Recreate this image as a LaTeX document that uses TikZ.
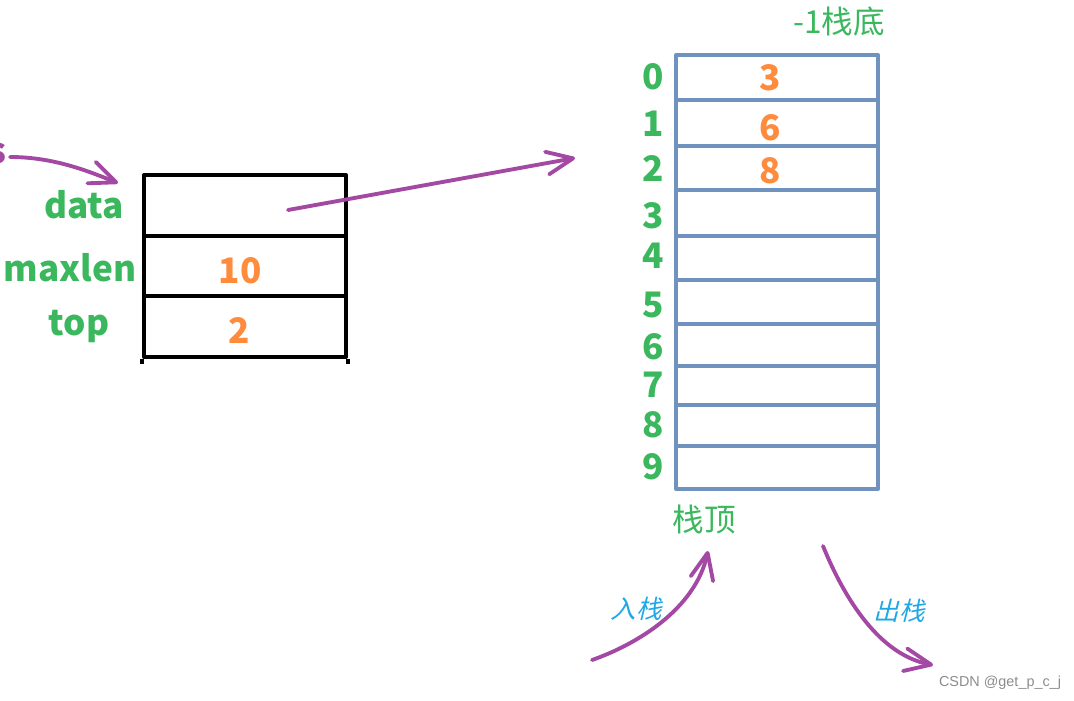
\documentclass[tikz,border=0pt]{standalone}
\usepackage{fontspec}
\setmainfont{Noto Sans CJK SC}
\newfontfamily\slantcjk{Noto Sans CJK SC}[FakeSlant=0.25]
\newfontfamily\markfont{Liberation Sans}
\usetikzlibrary{arrows.meta}
\definecolor{csgreen}{HTML}{3BB75E}
\definecolor{csorange}{HTML}{FF8B3D}
\definecolor{cspurple}{HTML}{A349A4}
\definecolor{csblue}{HTML}{7092BE}
\definecolor{cscyan}{HTML}{1FA8E4}
\tikzset{
  every picture/.style={line cap=round, line join=round},
  % struct fields (black) and stack slots (blue)
  cell/.style={draw=black, line width=2.3pt, line cap=butt, minimum width=4.04cm, inner sep=0pt},
  slot/.style={draw=csblue, line width=2.3pt, line cap=butt, minimum width=4.04cm, inner sep=0pt},
  field/.style={font=\bfseries\fontsize{20}{24}\selectfont, text=csgreen, inner sep=0pt},
  idx/.style={font=\bfseries\fontsize{20}{24}\selectfont, text=csgreen, inner sep=0pt},
  val/.style={font=\bfseries\fontsize{20}{24}\selectfont, text=csorange, inner sep=0pt},
  note/.style={font=\fontsize{18}{22}\selectfont, text=csgreen, inner sep=0pt},
  opname/.style={font=\slantcjk\fontsize{14.5}{17}\selectfont, text=cscyan, inner sep=0pt},
  % hand drawn purple pointer
  ptr/.style={draw=cspurple, line width=2.2pt, -{Straight Barb[length=15pt, width=13pt, round]}},
}
\begin{document}
\begin{tikzpicture}[x=0.02cm, y=-0.02cm]
  \useasboundingbox (0,0) rectangle (1074,700);
  % ---- left: the struct with its three fields
  \node[cell, minimum height=1.22cm] (datacell) at (245,205.5) {};
  \node[cell, minimum height=1.2cm] (lencell) at (245,266) {};
  \node[cell, minimum height=1.22cm] (topcell) at (245,326.5) {};
  \draw[line width=2.3pt, line cap=butt] (topcell.south west) -- ++(0,5) (topcell.south east) -- ++(0,5);
  \node[field] (datalbl) at (84,205) {data};
  \node[field] (lenlbl) at (70,268) {maxlen};
  \node[field] (toplbl) at (79,326) {top};
  \node[val] (lenval) at (240,271) {10};
  \node[val] (topval) at (239,330) {2};
  \node[font=\bfseries\fontsize{20}{24}\selectfont, text=cspurple, inner sep=0pt, anchor=east] (sfrag) at (7,153) {s};
  \coordinate (sptr) at (10,157);
  \coordinate (datatip) at (118,183);
  \draw[ptr] (sptr) .. controls (55,157) and (90,172) .. (datatip);
  % ---- right: the array used as stack
  \foreach \i/\a/\b in {0/55/100, 1/100/146, 2/146/190, 3/190/236, 4/236/280,
                        5/280/324, 6/324/366, 7/366/405, 8/405/446, 9/446/489}
    \node[slot, minimum height={(\b-\a)*0.02cm}] (slot\i) at (777,{(\a+\b)/2}) {};
  \foreach \i/\y in {0/77, 1/124, 2/168, 3/216, 4/256, 5/305, 6/347, 7/385, 8/425, 9/467}
    \node[idx] (idx\i) at (653,\y) {\i};
  \foreach \i/\v/\y in {0/3/78, 1/6/128, 2/8/171}
    \node[val] (val\i) at (770,\y) {\v};
  \node[note] (bottomnote) at (839,21) {-1栈底};
  \node[note] (topnote) at (704,520) {栈顶};
  % data points to the array
  \coordinate (ptrstart) at (288,210);
  \coordinate (ptrend) at (575,158);
  \draw[ptr] (ptrstart) -- (ptrend);
  % ---- push and pop
  \coordinate (pushstart) at (592,660);
  \coordinate (pushtip) at (708,551);
  \draw[ptr] (pushstart) .. controls (635,645) and (695,610) .. (pushtip);
  \coordinate (popstart) at (823,546);
  \coordinate (poptip) at (933,665);
  \draw[ptr] (popstart) .. controls (845,600) and (880,655) .. (poptip);
  \node[opname] (pushlbl) at (636,609) {入栈};
  \node[opname] (poplbl) at (899,611) {出栈};
  \node[font=\markfont\fontsize{8.2}{10}\selectfont, text=black!45, inner sep=0pt] (mark) at (1000,683) {CSDN @get\_p\_c\_j};
\end{tikzpicture}
\end{document}
